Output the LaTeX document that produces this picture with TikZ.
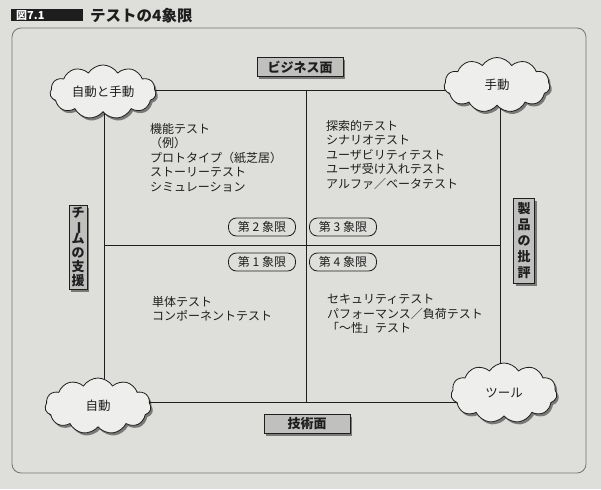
\documentclass[tikz,border=0pt]{standalone}
\usepackage{fontspec}
\setmainfont{Noto Sans CJK JP}
\usetikzlibrary{shapes.symbols,shadows}
\definecolor{paper}{RGB}{222,222,219}
\definecolor{cloudfill}{RGB}{238,238,236}
\definecolor{boxfill}{RGB}{192,192,190}
\definecolor{ink}{RGB}{30,30,30}
\tikzset{
  lbl/.style={inner sep=0pt, font=\fontsize{12}{14.5}\selectfont, text=ink, align=left, anchor=north west},
  cloudnode/.style={shape=cloud, cloud puffs=11, cloud puff arc=115, aspect=2.1, draw=ink, line width=0.8pt, fill=cloudfill,
    drop shadow={shadow xshift=2pt, shadow yshift=-2.5pt, fill=black, opacity=0.45},
    minimum width=106pt, minimum height=52pt, inner sep=0pt, font=\fontsize{12.5}{14}\selectfont, text=ink},
  tagbox/.style={draw=ink, line width=0.7pt, fill=boxfill, inner sep=0pt,
    drop shadow={shadow xshift=2pt, shadow yshift=-2.5pt, fill=black, opacity=0.45},
    font=\fontsize{13}{14}\selectfont\bfseries, text=ink},
  quad/.style={draw=ink, line width=0.8pt, rounded corners=8pt, fill=paper, minimum width=67pt, minimum height=18pt,
    inner sep=0pt, font=\fontsize{12}{14}\selectfont, text=ink},
  gridline/.style={draw=ink, line width=0.7pt},
}
\begin{document}
\begin{tikzpicture}[x=1pt,y=-1pt]
\useasboundingbox (0,0) rectangle (601,489);
\fill[paper] (0,0) rectangle (601,489);
% title
\node[fill=ink, minimum width=72pt, minimum height=12pt, inner sep=0pt, anchor=north west] (titlebar) at (11,9) {};
\node[anchor=west, inner sep=0pt, text=white, font=\fontsize{11}{12}\selectfont\bfseries] (fig) at (16,15.5) {図7.1};
\node[anchor=west, inner sep=0pt, text=ink, font=\fontsize{15.5}{16}\selectfont\bfseries] (title) at (90,15.5) {テストの4象限};
% frame
\draw[draw=black!55, line width=0.8pt, rounded corners=9pt] (12,28) rectangle (586,473);
% grid corners
\coordinate (tl) at (104,90);
\coordinate (tr) at (500,90);
\coordinate (br) at (500,402);
\coordinate (bl) at (104,402);
\coordinate (tm) at (306,90);
\coordinate (bm) at (306,402);
\coordinate (ml) at (104,245);
\coordinate (mr) at (500,245);
\draw[gridline] (tl) -- (tr) -- (br) -- (bl) -- cycle;
\draw[gridline] (tm) -- (bm);
\draw[gridline] (ml) -- (mr);
% clouds
\node[cloudnode] (c1) at (103,92) {自動と手動};
\node[cloudnode, minimum height=55pt] (c2) at (497,85) {手動};
\node[cloudnode, minimum height=56pt] (c3) at (98,406) {自動};
\node[cloudnode, minimum height=60pt] (c4) at (504,393) {ツール};
% tag boxes
\node[tagbox, minimum width=86pt, minimum height=19pt] (biz) at (300,67) {ビジネス面};
\node[tagbox, minimum width=86pt, minimum height=19pt] (tech) at (307,424) {技術面};
\node[tagbox, minimum width=18pt, minimum height=84pt, align=center, font=\fontsize{13}{14}\selectfont\bfseries] (team) at (78,247)
  {チ\\[-1pt]\rotatebox[origin=c]{-90}{ー}\\[-1pt]ム\\の\\支\\援};
\node[tagbox, minimum width=21pt, minimum height=85pt, align=center, font=\fontsize{13}{16}\selectfont\bfseries] (prod) at (524,241)
  {製\\品\\の\\批\\評};
% quadrant labels
\node[quad] (q2) at (262,227) {第 2 象限};
\node[quad] (q3) at (343,227) {第 3 象限};
\node[quad] (q1) at (262,262) {第 1 象限};
\node[quad] (q4) at (343,262) {第 4 象限};
% texts
\node[lbl] (t2) at (150,123) {機能テスト\\（例）\\プロトタイプ（紙芝居）\\ストーリーテスト\\シミュレーション};
\node[lbl] (t3) at (326,120) {探索的テスト\\シナリオテスト\\ユーザビリティテスト\\ユーザ受け入れテスト\\アルファ／ベータテスト};
\node[lbl] (t1) at (152,296) {単体テスト\\コンポーネントテスト};
\node[lbl] (t4) at (327,294) {セキュリティテスト\\パフォーマンス／負荷テスト\\「～性」テスト};
\end{tikzpicture}
\end{document}
